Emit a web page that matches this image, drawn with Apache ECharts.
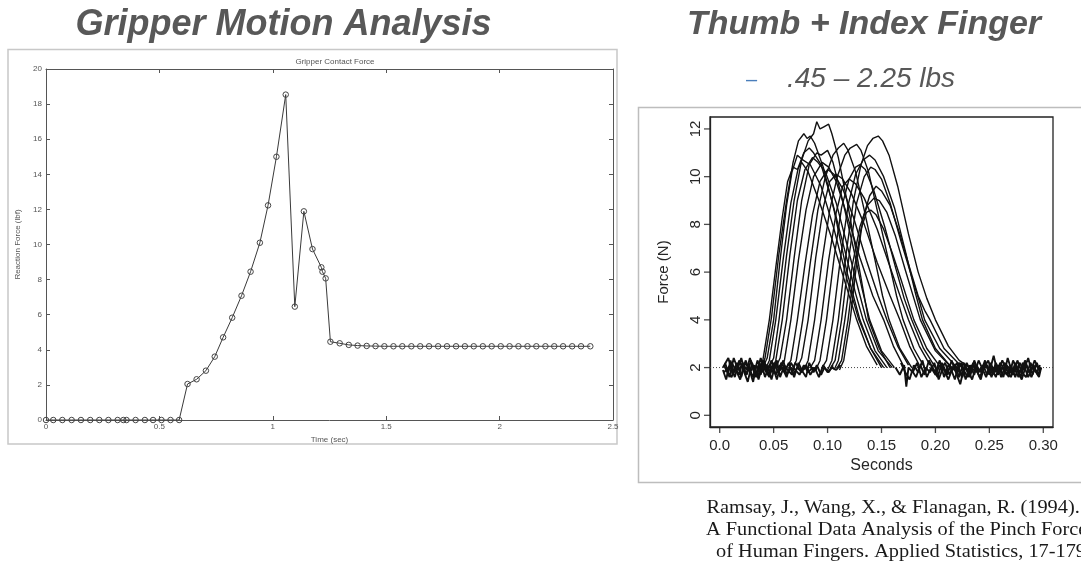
<!DOCTYPE html>
<html><head><meta charset="utf-8">
<script src="https://cdn.jsdelivr.net/npm/echarts@6/dist/echarts.min.js"></script>
<style>html,body{margin:0;padding:0;background:#fff}#c{width:1081px;height:568px}</style>
</head><body><div id="c"></div>
<script>
// ---------------- Left chart: Gripper Contact Force ----------------
const gripTime = [0, 0.032, 0.072, 0.113, 0.154, 0.195, 0.235, 0.275, 0.316, 0.341, 0.355, 0.395, 0.436, 0.472, 0.509, 0.549, 0.587,
  0.624, 0.664, 0.705, 0.744, 0.781, 0.821, 0.862, 0.902, 0.943, 0.979, 1.016, 1.057, 1.097, 1.137, 1.175, 1.214, 1.219, 1.233, 1.254,
  1.295, 1.335, 1.374, 1.414, 1.453, 1.492, 1.532, 1.571, 1.611, 1.650, 1.689, 1.729, 1.768, 1.808, 1.847, 1.886, 1.926, 1.965,
  2.005, 2.044, 2.083, 2.123, 2.162, 2.202, 2.241, 2.280, 2.320, 2.359, 2.400];
const gripForce = [0, 0, 0, 0, 0, 0, 0, 0, 0, 0, 0, 0, 0, 0, 0, 0, 0,
  2.05, 2.32, 2.81, 3.61, 4.71, 5.83, 7.08, 8.45, 10.1, 12.23, 15.0, 18.54, 6.46, 11.89, 9.74, 8.70, 8.45, 8.07, 4.46,
  4.37, 4.28, 4.24, 4.22, 4.21, 4.20, 4.20, 4.20, 4.20, 4.20, 4.20, 4.20, 4.20, 4.20, 4.20, 4.20, 4.20, 4.20,
  4.20, 4.20, 4.20, 4.20, 4.20, 4.20, 4.20, 4.20, 4.20, 4.20, 4.20];
const gripXTicks = [0, 0.5, 1, 1.5, 2, 2.5];
const gripXLabels = ["0", "0.5", "1", "1.5", "2", "2.5"];
const gripYTicks = [0, 2, 4, 6, 8, 10, 12, 14, 16, 18, 20];

// ---------------- Right chart: pinch force curves (N vs seconds) ----------------
const pinchCurves = [
  [[0.036,2.0],[0.040,2.3],[0.046,4.0],[0.052,6.2],[0.058,8.3],[0.063,9.8],[0.068,10.4],[0.072,10.3],[0.076,10.6],[0.082,10.2],[0.092,9.0],[0.104,7.4],[0.116,5.6],[0.127,4.0],[0.136,2.9],[0.146,2.1]],
  [[0.038,1.9],[0.042,2.4],[0.048,4.1],[0.055,6.8],[0.062,9.0],[0.068,10.6],[0.073,11.5],[0.078,11.8],[0.081,11.6],[0.084,11.7],[0.088,11.4],[0.096,10.4],[0.106,8.6],[0.118,6.0],[0.130,4.0],[0.140,2.8],[0.150,2.0]],
  [[0.040,2.0],[0.044,2.4],[0.050,4.0],[0.056,6.5],[0.062,8.8],[0.067,10.2],[0.072,10.9],[0.077,10.7],[0.084,10.5],[0.094,9.6],[0.106,7.8],[0.118,5.7],[0.129,4.0],[0.140,2.8],[0.152,2.0]],
  [[0.042,1.9],[0.046,2.3],[0.052,4.0],[0.059,6.6],[0.066,8.9],[0.073,10.4],[0.078,11.0],[0.083,11.2],[0.087,11.0],[0.094,10.5],[0.104,9.0],[0.116,6.9],[0.126,5.1],[0.133,4.0],[0.144,2.7],[0.155,2.0]],
  [[0.046,2.0],[0.050,2.4],[0.055,4.0],[0.062,6.7],[0.069,9.0],[0.076,10.7],[0.082,11.5],[0.087,11.8],[0.090,12.3],[0.093,12.0],[0.097,12.1],[0.101,12.2],[0.104,11.8],[0.110,10.8],[0.118,9.0],[0.128,6.5],[0.138,4.0],[0.148,2.8],[0.158,2.0]],
  [[0.048,1.9],[0.052,2.3],[0.058,4.0],[0.065,6.7],[0.072,9.0],[0.079,10.3],[0.086,10.8],[0.091,10.6],[0.098,10.2],[0.108,8.9],[0.120,6.8],[0.129,5.2],[0.136,4.0],[0.147,2.7],[0.160,2.0]],
  [[0.052,2.0],[0.056,2.4],[0.062,4.0],[0.069,6.6],[0.076,9.0],[0.083,10.5],[0.090,11.0],[0.094,10.9],[0.100,11.1],[0.105,10.6],[0.114,9.0],[0.124,7.0],[0.132,5.3],[0.139,4.0],[0.150,2.7],[0.162,2.0]],
  [[0.056,1.9],[0.060,2.3],[0.066,4.0],[0.073,6.5],[0.080,8.6],[0.087,10.0],[0.095,10.6],[0.101,10.4],[0.108,9.8],[0.118,8.4],[0.130,6.6],[0.142,5.0],[0.152,4.0],[0.161,2.9],[0.170,2.1]],
  [[0.062,2.0],[0.066,2.3],[0.072,4.0],[0.079,6.3],[0.086,8.4],[0.093,9.8],[0.100,10.3],[0.106,10.1],[0.114,9.5],[0.124,8.3],[0.136,6.5],[0.147,5.0],[0.155,4.0],[0.165,2.9],[0.175,2.1]],
  [[0.067,1.9],[0.071,2.3],[0.077,4.0],[0.084,6.4],[0.091,8.6],[0.098,10.0],[0.105,10.9],[0.110,11.2],[0.115,11.4],[0.119,11.1],[0.126,10.2],[0.134,8.6],[0.144,6.5],[0.151,5.0],[0.157,4.0],[0.167,2.8],[0.178,2.0]],
  [[0.072,2.0],[0.076,2.4],[0.082,4.0],[0.089,6.6],[0.096,8.7],[0.102,9.8],[0.108,10.1],[0.114,9.9],[0.122,9.3],[0.134,8.0],[0.146,6.4],[0.158,5.0],[0.167,4.0],[0.176,2.9],[0.185,2.1]],
  [[0.078,1.9],[0.082,2.3],[0.088,4.0],[0.095,6.5],[0.102,8.6],[0.109,10.0],[0.116,10.9],[0.121,11.2],[0.127,11.35],[0.131,11.1],[0.138,10.2],[0.146,8.6],[0.156,6.6],[0.164,5.0],[0.170,4.0],[0.180,2.8],[0.190,2.0]],
  [[0.084,2.0],[0.088,2.3],[0.094,4.0],[0.101,6.5],[0.108,8.5],[0.114,9.6],[0.120,9.9],[0.126,9.7],[0.134,9.1],[0.146,7.8],[0.158,6.2],[0.168,4.9],[0.175,4.0],[0.185,2.9],[0.195,2.1]],
  [[0.089,1.9],[0.093,2.3],[0.099,4.0],[0.106,6.6],[0.113,8.7],[0.120,9.9],[0.126,10.4],[0.130,10.5],[0.135,10.3],[0.143,9.4],[0.153,7.9],[0.163,6.2],[0.171,4.9],[0.178,4.0],[0.189,2.8],[0.200,2.0]],
  [[0.095,2.0],[0.099,2.3],[0.105,4.0],[0.112,6.6],[0.119,8.8],[0.126,10.1],[0.133,10.7],[0.139,10.9],[0.144,10.7],[0.152,10.0],[0.162,8.7],[0.172,6.9],[0.181,5.2],[0.188,4.0],[0.200,2.8],[0.215,2.0]],
  [[0.100,1.9],[0.104,2.3],[0.110,4.0],[0.117,6.7],[0.124,9.0],[0.131,10.5],[0.137,11.3],[0.142,11.6],[0.147,11.7],[0.151,11.5],[0.157,10.9],[0.165,9.6],[0.175,7.6],[0.184,6.0],[0.192,4.9],[0.200,4.0],[0.212,2.9],[0.222,2.3],[0.232,2.0]],
  [[0.103,2.0],[0.107,2.3],[0.113,4.0],[0.120,6.7],[0.127,8.9],[0.134,10.0],[0.140,10.4],[0.144,10.3],[0.150,9.9],[0.158,8.9],[0.168,7.3],[0.178,5.8],[0.185,4.8],[0.190,4.0],[0.204,2.8],[0.220,2.0]],
  [[0.106,1.9],[0.110,2.3],[0.116,4.0],[0.123,6.3],[0.130,7.9],[0.137,8.8],[0.143,9.1],[0.148,9.0],[0.155,8.5],[0.163,7.5],[0.172,6.1],[0.180,4.9],[0.186,4.0],[0.200,2.7],[0.215,2.0]],
  [[0.109,2.0],[0.113,2.3],[0.119,4.0],[0.125,6.2],[0.131,7.8],[0.136,8.5],[0.140,8.6],[0.145,8.4],[0.152,7.8],[0.160,6.8],[0.168,5.7],[0.175,4.7],[0.180,4.0],[0.192,2.8],[0.205,2.0]],
  [[0.111,1.9],[0.115,2.3],[0.121,4.0],[0.127,6.4],[0.133,8.3],[0.139,9.2],[0.145,9.6],[0.150,9.4],[0.158,8.8],[0.167,7.6],[0.176,6.2],[0.184,5.0],[0.190,4.4],[0.195,4.0],[0.208,2.8],[0.225,2.0]]
];
// noisy resting-force segments (before onset / after release)
const baselineTraces = [
  [[0.003,2.0],[0.008,2.4],[0.012,1.7],[0.016,2.2],[0.020,1.6],[0.024,2.3],[0.028,1.8],[0.032,2.1],[0.036,1.5],[0.040,2.2],[0.044,1.8],[0.048,2.3],[0.052,1.7],[0.056,2.1],[0.060,1.8],[0.064,2.2],[0.068,1.7],[0.072,2.0],[0.076,1.8],[0.080,2.1],[0.084,1.7],[0.088,2.0],[0.092,1.6],[0.096,2.1],[0.100,1.8],[0.104,2.0],[0.108,1.9],[0.112,2.1]],
  [[0.004,1.8],[0.010,2.1],[0.014,1.6],[0.018,2.3],[0.022,1.9],[0.026,1.4],[0.030,2.2],[0.034,1.7],[0.038,2.4],[0.042,1.9],[0.046,1.6],[0.050,2.2],[0.054,1.8],[0.058,2.0],[0.062,1.6],[0.066,2.2],[0.070,1.9],[0.074,1.7],[0.078,2.1],[0.082,1.8],[0.086,2.0],[0.090,1.9]],
  [[0.005,2.2],[0.009,1.6],[0.013,2.4],[0.017,1.9],[0.021,2.1],[0.025,1.7],[0.029,2.3],[0.033,1.6],[0.037,2.0],[0.041,2.3],[0.045,1.7],[0.049,2.1],[0.053,1.5],[0.057,2.2],[0.061,1.9]],
  [[0.007,1.7],[0.011,2.2],[0.015,1.9],[0.019,1.5],[0.023,2.2],[0.027,2.0],[0.031,1.6],[0.035,2.3],[0.039,1.8],[0.043,2.1],[0.046,1.9]],
  [[0.003,1.9],[0.006,1.5],[0.010,2.3],[0.013,1.8],[0.017,2.0],[0.020,2.4],[0.024,1.7],[0.027,2.0],[0.031,1.4],[0.034,2.1],[0.038,1.7],[0.041,2.2],[0.045,2.0],[0.048,1.5],[0.052,2.2],[0.055,1.9],[0.059,2.3],[0.062,1.7],[0.066,2.0],[0.069,1.6],[0.073,2.2],[0.076,1.9],[0.080,1.6],[0.083,2.2],[0.087,1.8],[0.090,2.1],[0.094,1.7],[0.097,2.0],[0.101,1.8],[0.105,2.1]],
  [[0.004,2.1],[0.007,1.8],[0.011,1.6],[0.014,2.0],[0.018,1.7],[0.021,2.2],[0.025,1.9],[0.028,2.4],[0.032,1.8],[0.035,1.6],[0.039,2.1],[0.042,1.6],[0.046,2.1],[0.049,1.8],[0.053,2.3],[0.056,1.6],[0.060,2.1],[0.063,1.9],[0.067,1.7],[0.070,2.2],[0.075,1.9]],
  [[0.163,2.0],[0.167,1.7],[0.171,2.1],[0.173,1.2],[0.175,2.0],[0.179,1.8],[0.183,2.2],[0.187,1.6],[0.191,2.0],[0.195,1.8],[0.199,2.2],[0.203,1.5],[0.207,2.0],[0.211,1.7],[0.215,2.3],[0.219,1.8],[0.223,1.3],[0.227,2.1],[0.231,1.7],[0.235,2.2],[0.239,1.8],[0.243,2.0],[0.247,1.6],[0.251,2.2],[0.255,1.8],[0.259,2.1],[0.263,1.6],[0.267,2.4],[0.271,1.8],[0.275,2.0],[0.279,1.6],[0.283,2.3],[0.287,1.8],[0.291,2.1],[0.295,1.7],[0.298,2.0]],
  [[0.178,1.9],[0.182,1.6],[0.186,2.1],[0.190,1.7],[0.194,2.3],[0.198,1.9],[0.202,1.6],[0.206,2.2],[0.210,1.8],[0.214,2.0],[0.218,1.5],[0.222,2.2],[0.226,1.9],[0.230,1.6],[0.234,2.1],[0.238,1.9],[0.242,1.5],[0.246,2.2],[0.250,1.8],[0.254,2.5],[0.258,1.7],[0.262,2.0],[0.266,1.7],[0.270,2.1],[0.274,1.6],[0.278,2.2],[0.282,1.9],[0.286,2.4],[0.290,1.7],[0.294,2.2],[0.297,1.8]],
  [[0.196,2.1],[0.200,1.8],[0.204,2.3],[0.208,1.6],[0.212,2.1],[0.216,1.9],[0.220,2.2],[0.224,1.7],[0.228,2.0],[0.232,1.6],[0.236,2.3],[0.240,1.8],[0.244,2.1],[0.248,1.7],[0.252,2.0],[0.256,1.6],[0.260,2.2],[0.264,1.9],[0.268,1.6],[0.272,2.3],[0.276,1.9],[0.280,1.5],[0.284,2.1],[0.288,1.8],[0.292,2.3],[0.296,1.9]],
  [[0.214,1.8],[0.218,2.1],[0.222,1.6],[0.226,2.2],[0.230,1.9],[0.234,1.5],[0.238,2.1],[0.242,1.8],[0.246,2.3],[0.250,1.7],[0.254,2.0],[0.258,1.8],[0.262,2.3],[0.266,1.9],[0.270,1.6],[0.274,2.2],[0.278,1.8],[0.282,2.1],[0.286,1.6],[0.290,2.0],[0.294,1.8],[0.297,2.1]],
  [[0.168,2.2],[0.172,1.8],[0.176,1.5],[0.180,2.1],[0.184,1.8],[0.188,2.3],[0.192,1.6],[0.196,2.0],[0.200,1.7],[0.204,2.1],[0.208,1.9],[0.212,1.5],[0.216,2.0],[0.220,1.8],[0.224,2.2],[0.228,1.5],[0.232,2.1],[0.236,1.7],[0.240,2.3],[0.244,1.9],[0.248,2.1],[0.252,1.6],[0.256,2.2],[0.260,1.8],[0.264,2.2],[0.268,2.0],[0.272,1.7],[0.276,2.3],[0.280,1.8],[0.284,1.6],[0.288,2.2],[0.292,1.9],[0.296,1.6],[0.298,2.0]],
  [[0.205,1.9],[0.209,2.2],[0.213,1.7],[0.217,2.1],[0.221,1.9],[0.225,1.6],[0.229,2.2],[0.233,1.8],[0.237,2.0],[0.241,1.6],[0.245,2.0],[0.249,2.3],[0.253,1.7],[0.257,2.1],[0.261,1.6],[0.265,2.1],[0.269,1.8],[0.273,2.0],[0.277,1.6],[0.281,2.2],[0.285,2.0],[0.289,1.6],[0.293,2.1],[0.297,1.9]]
];
const restLevel = 2;
const pinchXTicks = [0, 0.05, 0.10, 0.15, 0.20, 0.25, 0.30];
const pinchXLabels = ["0.0", "0.05", "0.10", "0.15", "0.20", "0.25", "0.30"];
const pinchYTicks = [0, 2, 4, 6, 8, 10, 12];
const pinchXMin = -0.009, pinchXMax = 0.309, pinchYMin = -0.49, pinchYMax = 12.5;

// ---------------- build ----------------
const chart = echarts.init(document.getElementById('c'), null, {renderer: 'canvas'});
const gripData = gripTime.map((t, i) => [t, gripForce[i]]);
const smallFont = {fontFamily: 'Liberation Sans', fontSize: 8, color: '#555'};
const plotFont = {fontFamily: 'Liberation Sans', fontSize: 15, color: '#262626'};

const series = [{
  type: 'line', xAxisIndex: 0, yAxisIndex: 0, data: gripData,
  symbol: 'circle', symbolSize: 5.5, showSymbol: true,
  lineStyle: {color: '#3a3a3a', width: 1},
  itemStyle: {color: 'rgba(0,0,0,0)', borderColor: '#444', borderWidth: 1},
  z: 3
}, {
  type: 'line', xAxisIndex: 2, yAxisIndex: 2, data: [[pinchXMin, restLevel], [pinchXMax, restLevel]],
  symbol: 'none', lineStyle: {color: '#444', width: 1, type: [1, 2]}, z: 1
}, {
  // outward tick marks of the R-style axes (bottom)
  type: 'scatter', xAxisIndex: 2, yAxisIndex: 2, clip: false, silent: true,
  data: pinchXTicks.map(t => [t, pinchYMin]), symbol: 'rect', symbolSize: [1.3, 6], symbolOffset: [0, 3],
  itemStyle: {color: '#222'}, z: 5
}, {
  // outward tick marks (left)
  type: 'scatter', xAxisIndex: 2, yAxisIndex: 2, clip: false, silent: true,
  data: pinchYTicks.map(v => [pinchXMin, v]), symbol: 'rect', symbolSize: [6, 1.3], symbolOffset: [-3, 0],
  itemStyle: {color: '#222'}, z: 5
}];
baselineTraces.forEach(tr => series.push({
  type: 'line', xAxisIndex: 2, yAxisIndex: 2, data: tr, symbol: 'none',
  lineStyle: {color: '#111', width: 1.9}, z: 2
}));
pinchCurves.forEach(c => series.push({
  type: 'line', xAxisIndex: 2, yAxisIndex: 2, data: c, symbol: 'none',
  lineStyle: {color: '#111', width: 1.4}, z: 3
}));

const option = {
  animation: false,
  backgroundColor: '#fff',
  grid: [
    {left: 46, top: 69, width: 567, height: 351, show: false},
    {left: 710, top: 117, width: 343, height: 310, show: true, borderColor: '#222', borderWidth: 1.3, backgroundColor: 'transparent'}
  ],
  xAxis: [
    {gridIndex: 0, type: 'value', min: 0, max: 2.5, interval: 0.5, position: 'bottom',
     name: 'Time (sec)', nameLocation: 'middle', nameGap: 15, nameTextStyle: smallFont,
     axisLine: {onZero: false, lineStyle: {color: '#555', width: 1}}, axisTick: {inside: true, length: 4, lineStyle: {color: '#555'}},
     axisLabel: Object.assign({margin: 3, formatter: v => gripXLabels[gripXTicks.indexOf(v)] ?? ''}, smallFont),
     splitLine: {show: false}},
    {gridIndex: 0, type: 'value', min: 0, max: 2.5, interval: 0.5, position: 'top',
     axisLine: {onZero: false, lineStyle: {color: '#555', width: 1}}, axisTick: {inside: true, length: 4, lineStyle: {color: '#555'}},
     axisLabel: {show: false}, splitLine: {show: false}},
    {gridIndex: 1, type: 'value', min: pinchXMin, max: pinchXMax, position: 'bottom',
     name: 'Seconds', nameLocation: 'middle', nameGap: 30,
     nameTextStyle: {fontFamily: 'Liberation Sans', fontSize: 16, color: '#262626'},
     axisLine: {show: true, onZero: false, lineStyle: {color: '#222', width: 1.3}},
     axisTick: {show: false},
     axisLabel: Object.assign({customValues: pinchXTicks, margin: 11,
       formatter: v => { const i = pinchXTicks.findIndex(t => Math.abs(t - v) < 1e-9); return i >= 0 ? pinchXLabels[i] : ''; }}, plotFont),
     splitLine: {show: false}}
  ],
  yAxis: [
    {gridIndex: 0, type: 'value', min: 0, max: 20, interval: 2, position: 'left',
     name: 'Reaction Force (lbf)', nameLocation: 'middle', nameGap: 24, nameRotate: 90, nameTextStyle: smallFont,
     axisLine: {show: true, onZero: false, lineStyle: {color: '#555', width: 1}}, axisTick: {show: true, inside: true, length: 4, lineStyle: {color: '#555'}},
     axisLabel: Object.assign({margin: 4}, smallFont), splitLine: {show: false}},
    {gridIndex: 0, type: 'value', min: 0, max: 20, interval: 2, position: 'right',
     axisLine: {show: true, onZero: false, lineStyle: {color: '#555', width: 1}}, axisTick: {show: true, inside: true, length: 4, lineStyle: {color: '#555'}},
     axisLabel: {show: false}, splitLine: {show: false}},
    {gridIndex: 1, type: 'value', min: pinchYMin, max: pinchYMax, position: 'left',
     name: 'Force (N)', nameLocation: 'middle', nameGap: 39, nameRotate: 90,
     nameTextStyle: {fontFamily: 'Liberation Sans', fontSize: 15, color: '#262626'},
     axisLine: {show: true, onZero: false, lineStyle: {color: '#222', width: 1.3}},
     axisTick: {show: false},
     axisLabel: Object.assign({customValues: pinchYTicks, rotate: 90, margin: 7}, plotFont),
     splitLine: {show: false}}
  ],
  series: series,
  graphic: [
    {type: 'rect', shape: {x: 8, y: 49.5, width: 609, height: 394.5}, style: {fill: 'none', stroke: '#c8c8c8', lineWidth: 1.5}, silent: true},
    {type: 'rect', shape: {x: 638.5, y: 107.5, width: 460, height: 375}, style: {fill: 'none', stroke: '#bdbdbd', lineWidth: 1.5}, silent: true},
    {type: 'text', x: 335, y: 62, style: {text: 'Gripper Contact Force', font: '8px "Liberation Sans"', fill: '#555', textAlign: 'center', textVerticalAlign: 'middle'}},
    {type: 'text', x: 283.5, y: 25, style: {text: 'Gripper Motion Analysis', font: 'italic bold 36px "Liberation Sans"', fill: '#585858', textAlign: 'center', textVerticalAlign: 'middle'}},
    {type: 'text', x: 864, y: 25, style: {text: 'Thumb + Index Finger', font: 'italic bold 34px "Liberation Sans"', fill: '#585858', textAlign: 'center', textVerticalAlign: 'middle'}},
    {type: 'text', x: 746, y: 80, style: {text: '–', font: '20px "Liberation Sans"', fill: '#4a7ebb', textAlign: 'left', textVerticalAlign: 'middle'}},
    {type: 'text', x: 787, y: 79, style: {text: '.45 – 2.25 lbs', font: 'italic 28px "Liberation Sans"', fill: '#585858', textAlign: 'left', textVerticalAlign: 'middle'}},
    {type: 'text', x: 706.5, y: 508, scaleX: 1.13, style: {text: 'Ramsay, J., Wang, X., & Flanagan, R. (1994).', font: '18px "Liberation Serif"', fill: '#1a1a1a', textAlign: 'left', textVerticalAlign: 'middle'}},
    {type: 'text', x: 706, y: 530, scaleX: 1.13, style: {text: 'A Functional Data Analysis of the Pinch Force', font: '18px "Liberation Serif"', fill: '#1a1a1a', textAlign: 'left', textVerticalAlign: 'middle'}},
    {type: 'text', x: 716, y: 552, scaleX: 1.13, style: {text: 'of Human Fingers. Applied Statistics, 17-179.', font: '18px "Liberation Serif"', fill: '#1a1a1a', textAlign: 'left', textVerticalAlign: 'middle'}}
  ]
};
chart.setOption(option);
</script></body></html>
